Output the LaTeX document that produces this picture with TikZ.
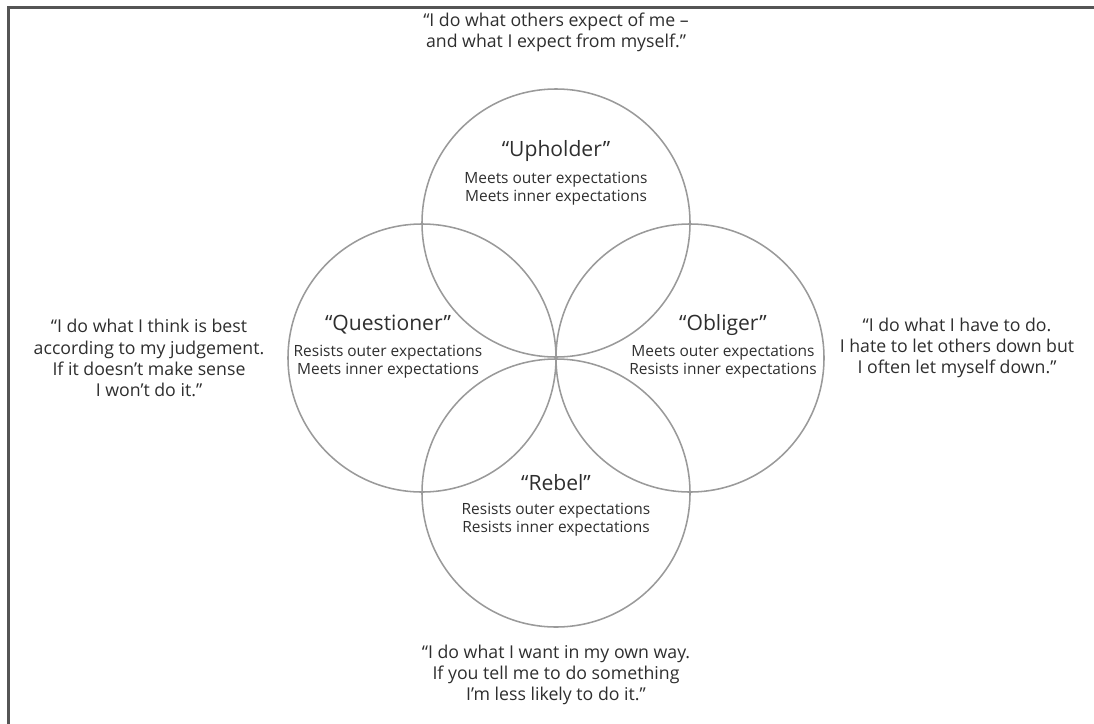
\documentclass[tikz,border=0pt]{standalone}
\usepackage{fontspec}
\setmainfont{Open Sans}
\definecolor{ringgray}{HTML}{9A9A9A}
\definecolor{framegray}{HTML}{555555}
\definecolor{textgray}{HTML}{2E2E2E}
\tikzset{
  ring/.style={circle, draw=ringgray, line width=1.1pt, minimum size=268*0.025cm, inner sep=0pt},
  typename/.style={text=textgray, font=\fontsize{15}{18}\selectfont},
  typedesc/.style={text=textgray, align=center, font=\fontsize{11}{12.8}\selectfont},
  saying/.style={text=textgray, align=center, font=\fontsize{12.6}{15}\selectfont}
}

\begin{document}
\begin{tikzpicture}[x=0.025cm, y=-0.025cm]
  \useasboundingbox (0,0) rectangle (1094,724);
  \draw[framegray, line width=1.6pt] (8.5,724) -- (8.5,7.5) -- (1094,7.5);
  % the four circles
  \node[ring] (upholder) at (556,223) {};
  \node[ring] (questioner) at (422,358) {};
  \node[ring] (obliger) at (690,358) {};
  \node[ring] (rebel) at (556,493) {};
  % names and descriptions
  \node[typename] (upholdername) at (556,151) {“Upholder”};
  \node[typedesc] (upholderdesc) at (556,189) {Meets outer expectations\\Meets inner expectations};
  \node[typename] (questionername) at (388,325) {“Questioner”};
  \node[typedesc] (questionerdesc) at (388,362) {Resists outer expectations\\Meets inner expectations};
  \node[typename] (obligername) at (723,325) {“Obliger”};
  \node[typedesc] (obligerdesc) at (723,362) {Meets outer expectations\\Resists inner expectations};
  \node[typename] (rebelname) at (556,483) {“Rebel”};
  \node[typedesc] (rebeldesc) at (556,520) {Resists outer expectations\\Resists inner expectations};
  % what each one says
  \node[saying] (upholdersays) at (556,32) {“I do what others expect of me –\\and what I expect from myself.”};
  \node[saying] (questionersays) at (149,358) {“I do what I think is best\\according to my judgement.\\If it doesn’t make sense\\I won’t do it.”};
  \node[saying] (obligersays) at (957,348) {“I do what I have to do.\\I hate to let others down but\\I often let myself down.”};
  \node[saying] (rebelsays) at (556,675) {“I do what I want in my own way.\\If you tell me to do something\\I’m less likely to do it.”};
\end{tikzpicture}
\end{document}
